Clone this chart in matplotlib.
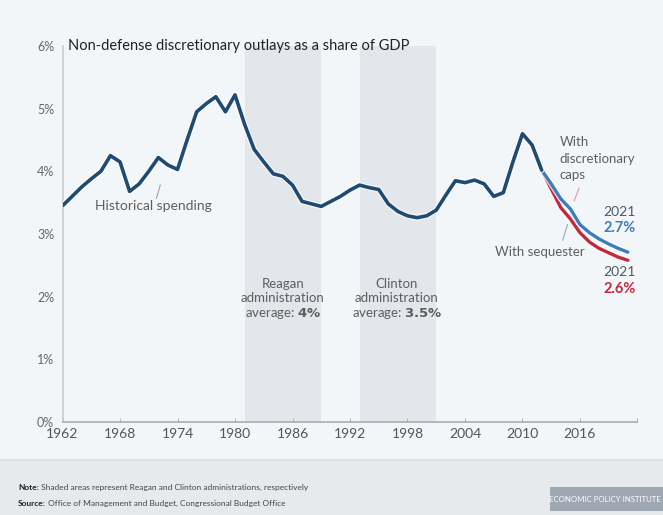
import matplotlib
matplotlib.use('Agg')
import matplotlib.pyplot as plt
import matplotlib.patheffects as pe
from matplotlib.patches import Rectangle

# Non-defense discretionary outlays, % of GDP
hist_years = list(range(1962, 2013))
hist_values = [3.45, 3.60, 3.75, 3.88, 4.00, 4.25, 4.15, 3.68, 3.80, 4.00,
               4.22, 4.10, 4.03, 4.50, 4.95, 5.08, 5.19, 4.95, 5.22, 4.75,
               4.35, 4.15, 3.96, 3.92, 3.78, 3.52, 3.48, 3.44, 3.52, 3.60,
               3.70, 3.78, 3.74, 3.71, 3.48, 3.36, 3.29, 3.26, 3.29, 3.38,
               3.62, 3.85, 3.82, 3.86, 3.80, 3.60, 3.66, 4.15, 4.60, 4.42,
               4.02]

proj_years = list(range(2012, 2022))
caps_values = [4.02, 3.80, 3.56, 3.40, 3.15, 3.02, 2.92, 2.84, 2.77, 2.71]
seq_values = [4.02, 3.72, 3.42, 3.24, 3.02, 2.87, 2.77, 2.70, 2.63, 2.58]

reagan = (1981, 1989)
clinton = (1993, 2001)

x_ticks = [1962, 1968, 1974, 1980, 1986, 1992, 1998, 2004, 2010, 2016]
y_ticks = [0, 1, 2, 3, 4, 5, 6]

BG = '#f3f6f8'
NAVY = '#1f4a72'
BLUE = '#3d7dbd'
RED = '#c5283d'
GRAY = '#5e5e5e'

plt.rcParams['font.family'] = ['Lato', 'DejaVu Sans']

fig = plt.figure(figsize=(6.63, 5.15), dpi=100, facecolor=BG)
ax = fig.add_axes([0.0943, 0.1806, 0.8672, 0.7301])
ax.set_facecolor(BG)

# shaded administrations
for start, end in (reagan, clinton):
    ax.axvspan(start, end, color='#e3e7eb', lw=0, zorder=0)

halo = [pe.Stroke(linewidth=4.2, foreground='white', alpha=0.8), pe.Normal()]
ax.plot(proj_years, seq_values, color=RED, lw=2.4, zorder=3, path_effects=halo,
        solid_capstyle='round')
ax.plot(proj_years, caps_values, color=BLUE, lw=2.4, zorder=4, path_effects=halo,
        solid_capstyle='round')
ax.plot(hist_years, hist_values, color=NAVY, lw=2.6, zorder=5, path_effects=halo,
        solid_joinstyle='round', solid_capstyle='round')

ax.set_xlim(1962, 2022)
ax.set_ylim(0, 6)
ax.set_xticks(x_ticks + [2022])
ax.set_xticklabels([str(y) for y in x_ticks] + [''])
ax.set_yticks(y_ticks)
ax.set_yticklabels([f'{v}%' for v in y_ticks])
ax.tick_params(axis='x', length=3, color='#b5b9bd', labelsize=10, labelcolor='#555555',
               pad=4, direction='in')
ax.tick_params(axis='y', length=0, labelsize=9, labelcolor='#666666', pad=6)

for side in ('top', 'right'):
    ax.spines[side].set_visible(False)
ax.spines['left'].set_color('#c8ccd0')
ax.spines['bottom'].set_color('#a8adb2')
ax.spines['left'].set_linewidth(1.2)
ax.spines['bottom'].set_linewidth(1.2)

# title inside plot
ax.text(1962.6, 6.0, 'Non-defense discretionary outlays as a share of GDP',
        fontsize=10.5, color='#222222', va='center', ha='left')

# annotations
ax.text(1971.5, 3.44, 'Historical spending', fontsize=10, color=GRAY,
        ha='center', va='center')
ax.plot([1971.8, 1972.2], [3.57, 3.78], color='#9aa3ad', lw=0.8, zorder=6)

ax.text(1985, 1.95, 'Reagan\nadministration\naverage: $\\bf{4\\%}$', fontsize=9.5,
        color=GRAY, ha='center', va='center', linespacing=1.2)
ax.text(1996.9, 1.95, 'Clinton\nadministration\naverage: $\\bf{3.5\\%}$', fontsize=9.5,
        color=GRAY, ha='center', va='center', linespacing=1.2)

ax.text(2013.9, 4.2, 'With\ndiscretionary\ncaps', fontsize=9.5, color=GRAY,
        ha='left', va='center', linespacing=1.45)
ax.plot([2015.9, 2015.4], [3.73, 3.53], color='#d79ab0', lw=0.8, zorder=6)

ax.text(2021.8, 3.35, '2021', fontsize=10, color='#4d5a66', ha='right', va='center')
ax.text(2021.8, 3.1, '2.7%', fontsize=10.5, color=BLUE, fontweight='bold',
        ha='right', va='center')

ax.text(2011.8, 2.71, 'With sequester', fontsize=9.5, color=GRAY,
        ha='center', va='center')
ax.plot([2014.2, 2014.7], [2.9, 3.15], color='#8fb3a0', lw=0.8, zorder=6)

ax.text(2021.8, 2.4, '2021', fontsize=10, color='#4d5a66', ha='right', va='center')
ax.text(2021.8, 2.13, '2.6%', fontsize=10.5, color=RED, fontweight='bold',
        ha='right', va='center')

# footer band
fig.patches.append(Rectangle((0, 0), 1, 0.105, transform=fig.transFigure,
                             facecolor='#e7eaed', edgecolor='none', zorder=-2))
fig.patches.append(Rectangle((0, 0.105), 1, 0.004, transform=fig.transFigure,
                             facecolor='#dde1e5', edgecolor='none', zorder=-2))

note = fig.text(0.027, 0.054, 'Note:', fontsize=6, color='#222222',
                fontweight='bold', va='center')
ax.annotate(' Shaded areas represent Reagan and Clinton administrations, respectively',
            xy=(1, 0.5), xycoords=note, va='center', fontsize=6, color='#444444')
source = fig.text(0.027, 0.023, 'Source:', fontsize=6, color='#222222',
                  fontweight='bold', va='center')
ax.annotate(' Office of Management and Budget, Congressional Budget Office',
            xy=(1, 0.5), xycoords=source, va='center', fontsize=6, color='#444444')

fig.patches.append(Rectangle((0.83, 0.008), 0.17, 0.046, transform=fig.transFigure,
                             facecolor='#9ea8b2', edgecolor='none', zorder=1))
fig.text(0.913, 0.031, 'ECONOMIC POLICY INSTITUTE', fontsize=5.6, color='white',
         ha='center', va='center', zorder=2)

fig.savefig('out.png', dpi=100, facecolor=BG)
